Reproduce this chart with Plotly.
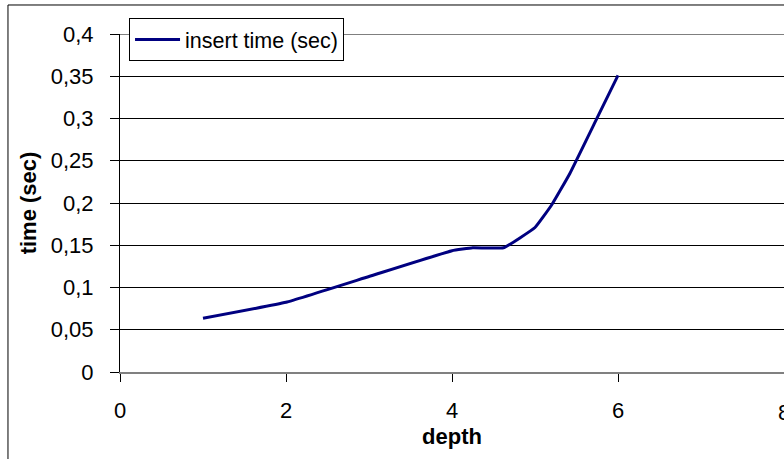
import plotly.graph_objects as go

# Data
depth = [1, 2, 3, 4, 4.25, 4.62, 5, 5.2, 5.42, 5.75, 6]
insert_time = [0.0635, 0.0825, 0.113, 0.1435, 0.147, 0.147, 0.171, 0.1976, 0.235, 0.301, 0.351]
series_name = "insert time (sec)"
x_title = "depth"
y_title = "time (sec)"
y_tickvals = [0, 0.05, 0.1, 0.15, 0.2, 0.25, 0.3, 0.35, 0.4]
y_ticktext = ["0", "0,05", "0,1", "0,15", "0,2", "0,25", "0,3", "0,35", "0,4"]
x_tickvals = [0, 2, 4, 6, 8]
x_ticktext = ["0", "2", "4", "6", "8"]
y_max = 0.4
x_max = 8

FONT = "Liberation Sans, Arial, sans-serif"

fig = go.Figure()
fig.add_trace(go.Scatter(
    x=depth, y=insert_time, mode="lines", name=series_name,
    line=dict(color="#000080", width=3, shape="spline", smoothing=0.3),
    showlegend=True,
))

fig.update_layout(
    width=784, height=459,
    margin=dict(l=120, r=0, t=34, b=87),
    paper_bgcolor="white", plot_bgcolor="white",
    font=dict(family=FONT, color="black", size=21),
    showlegend=True,
    legend=dict(
        x=0.0136, y=1.047, xanchor="left", yanchor="top",
        bgcolor="white", bordercolor="black", borderwidth=1,
        font=dict(family=FONT, size=21.5, color="black"),
        itemwidth=45,
        tracegroupgap=0,
    ),
    xaxis=dict(
        range=[0, x_max], tickvals=x_tickvals, ticktext=x_ticktext,
        showgrid=False, zeroline=False,
        showline=True, linecolor="#808080", linewidth=2,
        ticks="outside", ticklen=8, tickcolor="black", tickwidth=1,
        ticklabelstandoff=10,
        tickfont=dict(family=FONT, size=22, color="black"),
        title=dict(text="<b>" + x_title + "</b>", standoff=6,
                   font=dict(family=FONT, size=22, color="black")),
    ),
    yaxis=dict(
        range=[0, y_max], tickvals=y_tickvals, ticktext=y_ticktext,
        showgrid=True, gridcolor="black", gridwidth=1,
        zeroline=False,
        showline=True, linecolor="black", linewidth=1,
        ticks="outside", ticklen=9, tickcolor="black", tickwidth=1,
        ticklabelstandoff=12,
        tickfont=dict(family=FONT, size=22, color="black"),
        title=dict(text="<b>" + y_title + "</b>", standoff=8,
                   font=dict(family=FONT, size=22, color="black")),
    ),
    shapes=[
        # top gridline at the y-axis maximum
        dict(type="line", xref="paper", yref="y",
             x0=0, x1=1, y0=y_max, y1=y_max, layer="below",
             line=dict(color="black", width=1)),
        # outer chart border (left and top edges; the rest is cut off)
        dict(type="line", xref="paper", yref="paper",
             x0=-0.1687, x1=-0.1687, y0=-0.4, y1=1.0858,
             line=dict(color="black", width=1)),
        dict(type="line", xref="paper", yref="paper",
             x0=-0.1687, x1=1.05, y0=1.0858, y1=1.0858,
             line=dict(color="black", width=1)),
    ],
    annotations=[
        # last x tick label, cut by the right edge as in the reference
        dict(text=x_ticktext[-1], xref="x", yref="paper", x=x_max, y=0,
             yshift=-26, xanchor="center", yanchor="top", showarrow=False,
             font=dict(family=FONT, size=22, color="black")),
    ],
)

fig.write_html("out.html")
